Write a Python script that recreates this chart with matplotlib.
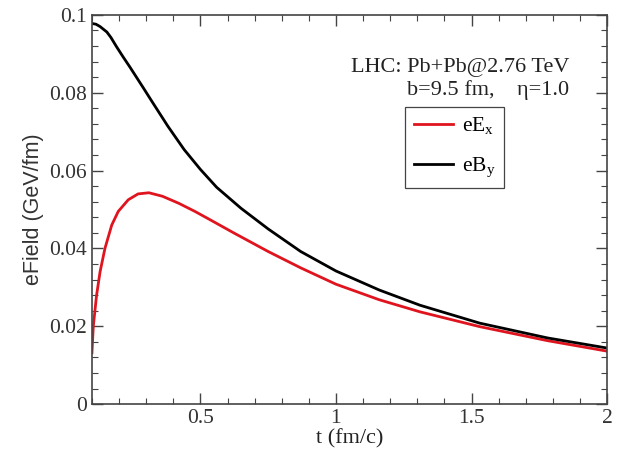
import matplotlib
matplotlib.use("Agg")
import matplotlib.pyplot as plt
from matplotlib.ticker import MultipleLocator

# time grid and field strengths (GeV/fm)
t_B = [0.1, 0.115, 0.13, 0.155, 0.17, 0.19, 0.215, 0.24, 0.265, 0.29,
       0.32, 0.38, 0.44, 0.5, 0.56, 0.65, 0.75, 0.87, 1.0, 1.16, 1.31,
       1.53, 1.78, 2.0]
eBy = [0.0978, 0.0976, 0.0970, 0.0956, 0.0942, 0.0919, 0.0892, 0.0866,
       0.0839, 0.0812, 0.0779, 0.0714, 0.0654, 0.0603, 0.0557, 0.0503,
       0.0450, 0.0392, 0.0342, 0.0293, 0.0254, 0.0208, 0.0170, 0.0144]

t_E = [0.1, 0.105, 0.117, 0.13, 0.148, 0.173, 0.197, 0.234, 0.27, 0.31,
       0.36, 0.42, 0.48, 0.54, 0.62, 0.75, 0.87, 1.0, 1.16, 1.31, 1.53,
       1.78, 2.0]
eEx = [0.0132, 0.0200, 0.0279, 0.0340, 0.0400, 0.0460, 0.0495, 0.0525,
       0.0540, 0.0543, 0.0534, 0.0516, 0.0495, 0.0472, 0.0441, 0.0392,
       0.0350, 0.0308, 0.0268, 0.0237, 0.0199, 0.0163, 0.0136]

serif = "Liberation Serif"

fig = plt.figure(figsize=(6.17, 4.51), dpi=100)
ax = fig.add_axes([0.149, 0.104, 0.835, 0.863])

ax.plot(t_E, eEx, color="#e0141e", lw=2.0, label=r"eE$_\mathregular{x}$")
ax.plot(t_B, eBy, color="black", lw=2.0, label=r"eB$_\mathregular{y}$")

ax.set_xlim(0.1, 2)
ax.set_ylim(0, 0.1)
ax.xaxis.set_minor_locator(MultipleLocator(0.1))
ax.yaxis.set_minor_locator(MultipleLocator(0.004))
ax.set_yticks([0, 0.02, 0.04, 0.06, 0.08, 0.1])
ax.set_yticklabels(["0", "0.02", "0.04", "0.06", "0.08", "0.1"])
ax.set_xticks([0.5, 1, 1.5, 2])
ax.set_xticklabels(["0.5", "1", "1.5", "2"])

ax.tick_params(which="both", direction="in", top=True, right=True,
               color="#444444", labelcolor="#333333")
ax.tick_params(which="major", length=8, width=1.0, labelsize=15.5)
ax.tick_params(which="minor", length=4, width=0.8)
for lab in ax.get_xticklabels() + ax.get_yticklabels():
    lab.set_fontfamily(serif)
for sp in ax.spines.values():
    sp.set_color("#444444")
    sp.set_linewidth(1.2)

ax.set_xlabel("t (fm/c)", fontsize=16, family=serif, color="#222222",
              labelpad=1)
ax.set_ylabel("eField (GeV/fm)", fontsize=15.5, family="Liberation Sans",
              color="#333333", labelpad=4)

ax.text(0.926, 0.864, "LHC: Pb+Pb@2.76 TeV", transform=ax.transAxes,
        ha="right", va="center", fontsize=16, family=serif, color="#222222")
ax.text(0.926, 0.807, "b=9.5 fm,    \u03b7=1.0", transform=ax.transAxes,
        ha="right", va="center", fontsize=16, family=serif, color="#222222")

leg = ax.legend(loc="upper left", bbox_to_anchor=(0.608, 0.763),
                borderaxespad=0, fancybox=False, framealpha=1,
                edgecolor="#444444", handlelength=1.8, handletextpad=0.45,
                labelspacing=0.85, borderpad=0.4,
                prop={"family": serif, "size": 15.5})
leg.get_frame().set_linewidth(0.9)

fig.savefig("out.png", dpi=100)
